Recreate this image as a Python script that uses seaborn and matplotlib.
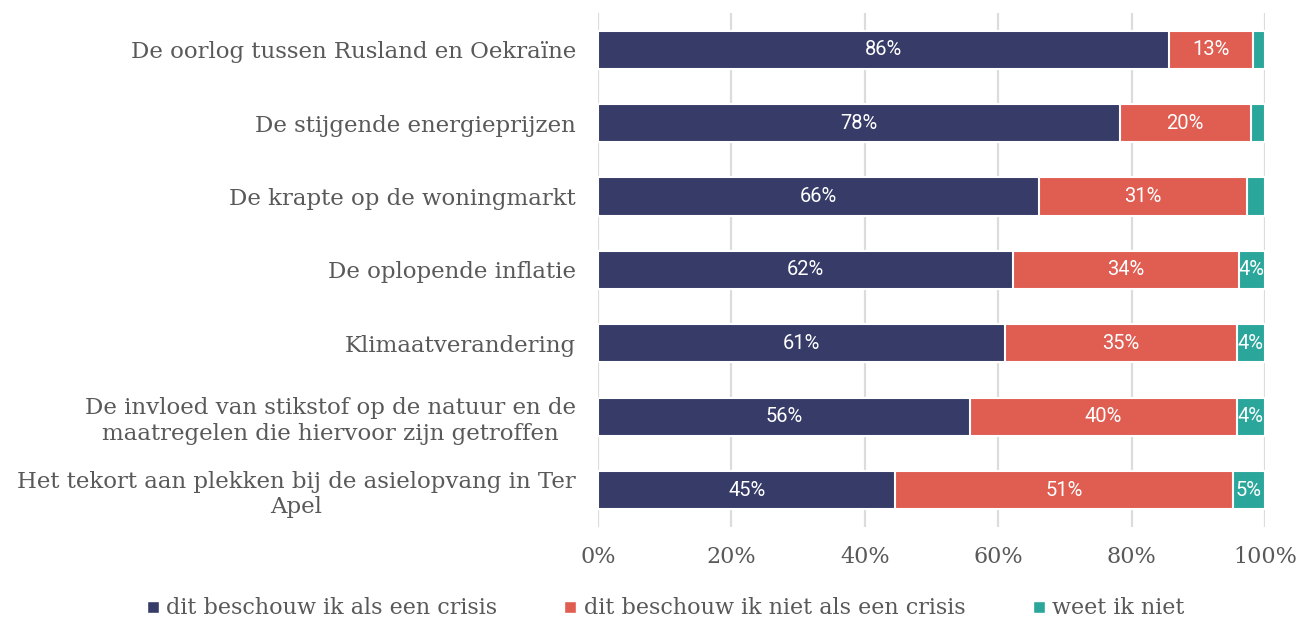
import matplotlib
matplotlib.use('Agg')
import matplotlib.pyplot as plt
from matplotlib.lines import Line2D
import numpy as np
import pandas as pd
import seaborn as sns

# -------data-------#
categories = [
    'De oorlog tussen Rusland en Oekraïne',
    'De stijgende energieprijzen',
    'De krapte op de woningmarkt',
    'De oplopende inflatie',
    'Klimaatverandering',
    'De invloed van stikstof op de natuur en de\nmaatregelen die hiervoor zijn getroffen',
    'Het tekort aan plekken bij de asielopvang in Ter\nApel',
]
crisis = [85.6, 78.2, 66.1, 62.2, 61.0, 55.8, 44.6]
geen_crisis = [12.6, 19.7, 31.2, 33.9, 34.8, 40.0, 50.6]
weet_niet = [1.8, 2.1, 2.7, 3.9, 4.2, 4.2, 4.8]
series_names = ['dit beschouw ik als een crisis',
                'dit beschouw ik niet als een crisis',
                'weet ik niet']
colors = ['#363b68', '#e05d52', '#2ba69b']

df = pd.DataFrame({'cat': categories, 'a': crisis, 'b': geen_crisis, 'c': weet_niet})
df['ab'] = df['a'] + df['b']
df['abc'] = df['ab'] + df['c']

sns.set_style('white')
plt.rcParams['font.family'] = ['DejaVu Serif']

fig = plt.figure(figsize=(13, 6.22), dpi=100)
ax = fig.add_axes([0.46, 0.153, 0.513, 0.826])

# gridlines behind the bars
for x in range(0, 101, 20):
    ax.axvline(x, color='#dcdcdc', lw=1.6, zorder=0)

# stacked bars by layering cumulative sums
for col, c in zip(['abc', 'ab', 'a'], colors[::-1]):
    sns.barplot(data=df, y='cat', x=col, color=c, orient='h', width=0.52,
                edgecolor='white', linewidth=1.5, ax=ax, zorder=2, saturation=1)

# value labels inside the segments
for i in range(len(df)):
    starts = [0, df['a'][i], df['ab'][i]]
    vals = [df['a'][i], df['b'][i], df['c'][i]]
    for s, v in zip(starts, vals):
        if v >= 3.5:
            ax.text(s + v / 2, i, f'{round(v):.0f}%', ha='center', va='center',
                    color='white', fontsize=14.5, family=['Roboto', 'DejaVu Sans'], zorder=3)

ax.set_xlim(0, 100)
ax.set_ylim(6.5, -0.5)
ax.set_xticks(range(0, 101, 20))
ax.set_xticklabels([f'{x}%' for x in range(0, 101, 20)])
ax.set_xlabel('')
ax.set_ylabel('')
ax.tick_params(axis='y', length=0, pad=16, labelsize=16.5, labelcolor='#595959')
ax.tick_params(axis='x', length=0, pad=14, labelsize=16, labelcolor='#595959')
for lbl in ax.get_yticklabels():
    lbl.set_multialignment('center')
for sp in ax.spines.values():
    sp.set_visible(False)

handles = [Line2D([0], [0], marker='s', color='w', markerfacecolor=c, markersize=8)
           for c in colors]
fig.legend(handles, series_names, loc='center', bbox_to_anchor=(0.51, 0.022), ncol=3,
           frameon=False, fontsize=16, labelcolor='#595959', handletextpad=0.1,
           columnspacing=2.8, handlelength=1.0)

plt.savefig('out.png', dpi=100)
